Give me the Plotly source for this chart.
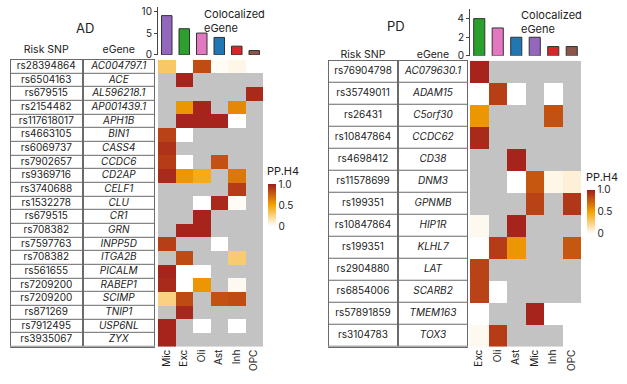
import plotly.graph_objects as go

N = None
# ---------------- AD data ----------------
AD_celltypes = ["Mic", "Exc", "Oli", "Ast", "Inh", "OPC"]
AD_counts = [9, 6, 5, 4, 2, 1]
AD_snps = ["rs28394864", "rs6504163", "rs679515", "rs2154482", "rs117618017", "rs4663105",
           "rs6069737", "rs7902657", "rs9369716", "rs3740688", "rs1532278", "rs679515",
           "rs708382", "rs7597763", "rs708382", "rs561655", "rs7209200", "rs7209200",
           "rs871269", "rs7912495", "rs3935067"]
AD_genes = ["AC004797.1", "ACE", "AL596218.1", "AP001439.1", "APH1B", "BIN1", "CASS4",
            "CCDC6", "CD2AP", "CELF1", "CLU", "CR1", "GRN", "INPP5D", "ITGA2B", "PICALM",
            "RABEP1", "SCIMP", "TNIP1", "USP6NL", "ZYX"]
AD_pph4 = [
    [0.30, 0.00, 0.82, 0.02, 0.05, 0.00],
    [N, 0.97, N, N, N, N],
    [N, N, N, N, N, 0.95],
    [N, 0.55, 0.97, N, 0.60, N],
    [N, 0.97, 0.97, 0.97, 0.00, N],
    [0.86, 0.00, N, N, N, N],
    [0.92, N, N, N, N, N],
    [0.88, 0.00, N, 0.80, N, N],
    [0.95, 0.55, 0.45, N, 0.66, N],
    [N, N, N, N, 0.88, N],
    [N, N, 0.00, 0.95, 0.02, N],
    [N, N, 0.97, N, N, N],
    [N, 0.97, 0.97, N, N, N],
    [0.87, N, N, 0.00, N, N],
    [N, 0.83, N, N, 0.28, N],
    [0.97, 0.00, 0.00, N, N, N],
    [0.95, 0.00, 0.55, N, 0.03, N],
    [0.25, 0.83, N, 0.80, 0.82, N],
    [N, 0.96, N, N, N, N],
    [0.97, N, 0.00, N, 0.00, N],
    [0.97, N, N, N, N, N],
]

# ---------------- PD data ----------------
PD_celltypes = ["Exc", "Oli", "Ast", "Mic", "Inh", "OPC"]
PD_counts = [4, 3, 2, 2, 1, 1]
PD_snps = ["rs76904798", "rs35749011", "rs26431", "rs10847864", "rs4698412", "rs11578699",
           "rs199351", "rs10847864", "rs199351", "rs2904880", "rs6854006", "rs57891859",
           "rs3104783"]
PD_genes = ["AC079630.1", "ADAM15", "C5orf30", "CCDC62", "CD38", "DNM3", "GPNMB", "HIP1R",
            "KLHL7", "LAT", "SCARB2", "TMEM163", "TOX3"]
PD_pph4 = [
    [0.97, N, N, N, N, N],
    [0.00, 0.87, 0.00, N, 0.00, N],
    [0.55, N, N, N, 0.80, N],
    [0.95, N, N, N, N, N],
    [N, N, 0.97, N, N, N],
    [N, N, 0.00, 0.78, 0.05, 0.08],
    [N, N, N, 0.86, N, 0.90],
    [0.03, N, 0.97, N, N, N],
    [0.00, 0.88, 0.55, N, N, 0.78],
    [0.86, N, N, N, N, N],
    [0.86, 0.00, N, N, N, N],
    [0.00, N, N, 0.97, 0.00, 0.00],
    [0.03, 0.88, N, N, N, 0.00],
]

BAR_COLORS = {"Mic": "#9467bd", "Exc": "#2ca02c", "Oli": "#e377c2",
              "Ast": "#1f77b4", "Inh": "#d62728", "OPC": "#8c564b"}
TABLE_COLS = ["Risk SNP", "eGene"]

COLORSCALE = [[0.0, "#ffffff"], [0.5, "#f5a300"], [1.0, "#a11c1e"]]
GRAY = "#c3c3c3"
BORDER = "#6a6a6a"
FONT = "Inter"
W, H = 627, 384


def px_x(a, b):
    return [a / W, b / W]


def px_y(top, bottom):
    return [1 - bottom / H, 1 - top / H]


fig = go.Figure()


def add_panel(celltypes, counts, snps, genes, vals, ax, title, title_xy, coloc_xy,
              heat_x, table_x, rows_y, bar_y, bar_range, bar_ticks, cbar_x, cbar_y, cbar_len,
              cbar_title_xy, header_standoff):
    hx, tx, bx = ax["hx"], ax["tx"], ax["bx"]
    hy, by = ax["hy"], ax["by"]
    n = len(genes)
    # gray layer for untested cells
    gray_z = [[1 if v is None else None for v in row] for row in vals]
    fig.add_trace(go.Heatmap(x=celltypes, y=genes, z=gray_z, xaxis=hx, yaxis=hy,
                             colorscale=[[0, GRAY], [1, GRAY]], showscale=False,
                             hoverinfo="skip"))
    fig.add_trace(go.Heatmap(x=celltypes, y=genes, z=vals, xaxis=hx, yaxis=hy,
                             colorscale=COLORSCALE, zmin=0, zmax=1,
                             colorbar=dict(
                                 x=cbar_x, xanchor="left", y=cbar_y, yanchor="middle",
                                 len=cbar_len, lenmode="pixels", thickness=8,
                                 tickvals=[0, 0.5, 1], ticktext=["0", "0.5", "1.0"],
                                 outlinewidth=0, ticks="", xpad=0, ypad=0,
                                 tickfont=dict(size=10, family=FONT, color="#222"))))
    # table: dark background + white cells with gaps
    fig.add_trace(go.Heatmap(x=TABLE_COLS, y=genes, z=[[0, 0]] * n, xaxis=tx, yaxis=hy,
                             colorscale=[[0, BORDER], [1, BORDER]], showscale=False,
                             hoverinfo="skip"))
    fig.add_trace(go.Heatmap(x=TABLE_COLS, y=genes, z=[[0, 0]] * n, xaxis=tx, yaxis=hy,
                             colorscale=[[0, "#ffffff"], [1, "#ffffff"]], showscale=False,
                             xgap=2, ygap=1, hoverinfo="skip"))
    fig.add_trace(go.Scatter(x=[TABLE_COLS[0]] * n, y=genes, text=snps, mode="text",
                             xaxis=tx, yaxis=hy, hoverinfo="skip", showlegend=False,
                             textfont=dict(size=10, family=FONT, color="#222")))
    fig.add_trace(go.Scatter(x=[TABLE_COLS[1]] * n, y=genes,
                             text=["<i>%s</i>" % g for g in genes], mode="text",
                             xaxis=tx, yaxis=hy, hoverinfo="skip", showlegend=False,
                             textfont=dict(size=10, family=FONT, color="#222")))
    # bars
    fig.add_trace(go.Bar(x=celltypes, y=counts, xaxis=bx, yaxis=by, width=0.6,
                         marker=dict(color=[BAR_COLORS[c] for c in celltypes],
                                     line=dict(color="#333333", width=1)),
                         showlegend=False, hoverinfo="skip"))

    def key(a):
        return a.replace("x", "xaxis").replace("y", "yaxis")

    fig.layout[key(hx)] = dict(domain=heat_x, anchor=hy, tickangle=-90,
                                range=[-0.5, len(celltypes) - 0.5],
                                tickfont=dict(size=10, family=FONT, color="#222"),
                                showgrid=False, zeroline=False, ticks="", showline=False)
    fig.layout[key(hy)] = dict(domain=rows_y, anchor=hx, range=[n - 0.5, -0.5],
                                showticklabels=False, showgrid=False, zeroline=False,
                                ticks="")
    fig.layout[key(tx)] = dict(domain=table_x, anchor=hy, side="top",
                                range=[-0.5, 1.5], ticklabelstandoff=header_standoff,
                                tickfont=dict(size=10.5, family=FONT, color="#222"),
                                showgrid=False, zeroline=False, ticks="", showline=True,
                                mirror=True, linecolor=BORDER, linewidth=1)
    fig.layout[key(bx)] = dict(domain=heat_x, anchor=by, matches=hx,
                                showticklabels=False, showgrid=False, zeroline=False,
                                ticks="", showline=False)
    fig.layout[key(by)] = dict(domain=bar_y, anchor=bx, range=bar_range,
                                tickvals=bar_ticks, showgrid=False, zeroline=False,
                                showline=True, linecolor="#444", linewidth=1,
                                ticks="outside", ticklen=3, tickcolor="#444",
                                tickfont=dict(size=10, family=FONT, color="#222"))
    fig.add_annotation(text=title, x=title_xy[0], y=title_xy[1], xref="paper",
                       yref="paper", xanchor="center", yanchor="middle", showarrow=False,
                       font=dict(size=13, family=FONT, color="#222"))
    fig.add_annotation(text="Colocalized<br>eGene", x=coloc_xy[0], y=coloc_xy[1],
                       xref="paper", yref="paper", xanchor="left", yanchor="top",
                       align="left", showarrow=False,
                       font=dict(size=11, family=FONT, color="#222"))
    fig.add_annotation(text="PP.H4", x=cbar_title_xy[0], y=cbar_title_xy[1],
                       xref="paper", yref="paper", xanchor="left", yanchor="middle",
                       showarrow=False, font=dict(size=11, family=FONT, color="#222"))


add_panel(AD_celltypes, AD_counts, AD_snps, AD_genes, AD_pph4,
          dict(hx="x", tx="x2", bx="x3", hy="y", by="y2"),
          "AD", (85 / W, 1 - 27 / H), (202 / W, 1 - 3 / H),
          px_x(158, 263), px_x(10, 155), px_y(59, 352), px_y(5, 54),
          [0, 11], [0, 5, 10], 268 / W, 1 - 207.5 / H, 42, (265 / W, 1 - 173 / H), 2)

add_panel(PD_celltypes, PD_counts, PD_snps, PD_genes, PD_pph4,
          dict(hx="x4", tx="x5", bx="x6", hy="y3", by="y4"),
          "PD", (396 / W, 1 - 25 / H), (519 / W, 1 - 4 / H),
          px_x(470, 581), px_x(328, 468), px_y(60, 352), px_y(7, 55),
          [0, 5.05], [0, 2, 4], 587 / W, 1 - 214 / H, 44, (584 / W, 1 - 179 / H), -2)

fig.update_layout(width=W, height=H, margin=dict(l=0, r=0, t=0, b=0),
                  paper_bgcolor="white", plot_bgcolor="white", showlegend=False,
                  font=dict(family=FONT, color="#222"))

fig.write_html("out.html", config={"displayModeBar": False},
               post_script="document.body.style.margin='0';"
                           "document.body.style.overflow='hidden';")
